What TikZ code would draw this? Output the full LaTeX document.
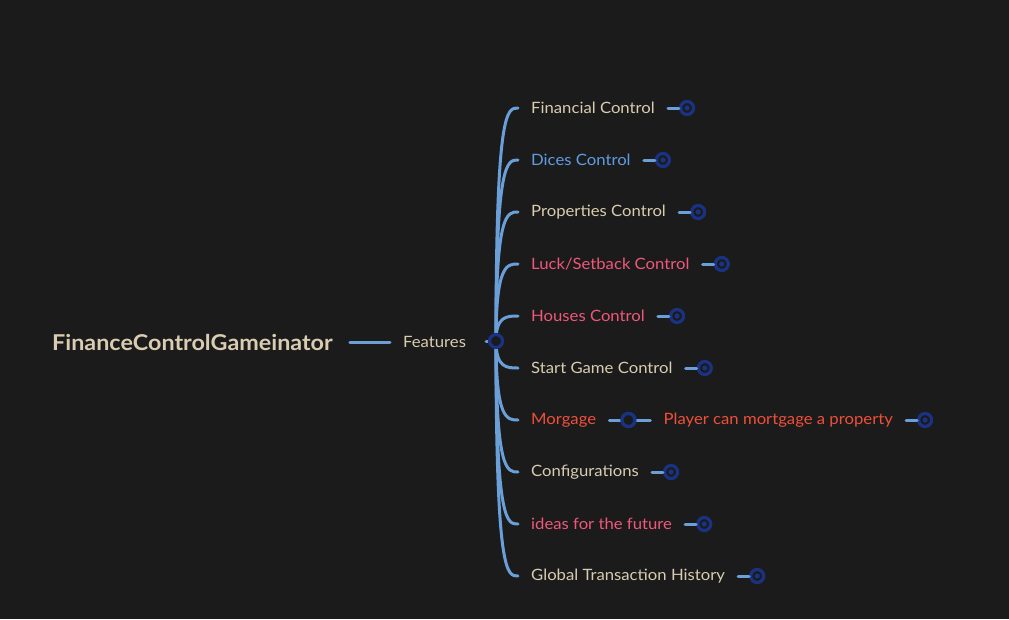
\documentclass[tikz,border=0pt]{standalone}
\usepackage{fontspec}
\setmainfont{Lato}[FakeStretch=1.07]
\usepackage{xcolor}
\usetikzlibrary{positioning}

\definecolor{bgdark}{HTML}{1B1B1B}
\definecolor{branchblue}{HTML}{6A9FD8}
\definecolor{ringblue}{HTML}{1A3282}
\definecolor{beige}{HTML}{D9CCB1}
\definecolor{diceblue}{HTML}{5F9DE3}
\definecolor{rosy}{HTML}{F0577A}
\definecolor{orangered}{HTML}{EF4F3A}

\tikzset{
  branch/.style={draw=branchblue, line width=3pt, line cap=round},
  topic/.style={anchor=west, inner sep=0pt, font=\fontsize{15.6}{18}\selectfont, text=beige},
  ring/.style={circle, draw=ringblue, line width=3.2pt, fill=bgdark, minimum size=13pt, inner sep=0pt},
  knob/.style={ring, path picture={\fill[ringblue] (path picture bounding box.center) circle (2.6pt);}}
}

\begin{document}
\begin{tikzpicture}[x=1pt,y=-1pt]
 \fill[bgdark] (0,0) rectangle (1009,619);
 \useasboundingbox (0,0) rectangle (1009,619);

 % root and main branch
 \node[anchor=west, inner sep=0pt, text=beige, font=\fontsize{21.8}{24}\selectfont\bfseries] (root) at (52,342) {FinanceControlGameinator};
 \node[topic] (feat) at (403,342) {Features};
 \draw[branch] ([xshift=17pt]root.east) -- ([xshift=-13pt]feat.west);
 \coordinate (hub) at (496,341);

 % topics
 \node[topic] (fin) at (531,108) {Financial Control};
 \node[topic, text=diceblue] (dice) at (531,160) {Dices Control};
 \node[topic] (prop) at (531,212) {Properties Control};
 \node[topic, text=rosy] (luck) at (531,264) {Luck/Setback Control};
 \node[topic, text=rosy] (house) at (531,316) {Houses Control};
 \node[topic] (start) at (531,368) {Start Game Control};
 \node[topic, text=orangered] (morg) at (531,420) {Morgage};
 \node[topic] (conf) at (531,472) {Configurations};
 \node[topic, text=rosy] (idea) at (531,524) {ideas for the future};
 \node[topic] (hist) at (531,576) {Global Transaction History};

 % curved connectors from the hub
 \foreach \t in {fin,dice,prop,luck,house,start,morg,conf,idea,hist}{
   \draw[branch] (hub) .. controls (hub |- \t.west) and ([xshift=-24pt]\t.west) .. ([xshift=-13pt]\t.west);
 }
 \draw[branch] ([xshift=-10pt]hub) -- (hub);
 \node[ring] (hubring) at (hub) {};

 % end knobs
 \foreach \t in {fin,dice,prop,luck,house,start,conf,idea,hist}{
   \node[knob, right=24pt of \t.east] (\t-k) {};
   \draw[branch] ([xshift=13pt]\t.east) -- (\t-k);
 }

 % mortgage sub topic
 \node[ring, right=24pt of morg.east] (morg-k) {};
 \draw[branch] ([xshift=13pt]morg.east) -- (morg-k);
 \node[topic, text=orangered, right=35pt of morg-k.center] (sub) {Player can mortgage a property};
 \draw[branch] (morg-k) -- ([xshift=-13pt]sub.west);
 \node[knob, right=24pt of sub.east] (sub-k) {};
 \draw[branch] ([xshift=13pt]sub.east) -- (sub-k);
 \node[ring] at (morg-k) {};
\end{tikzpicture}
\end{document}
